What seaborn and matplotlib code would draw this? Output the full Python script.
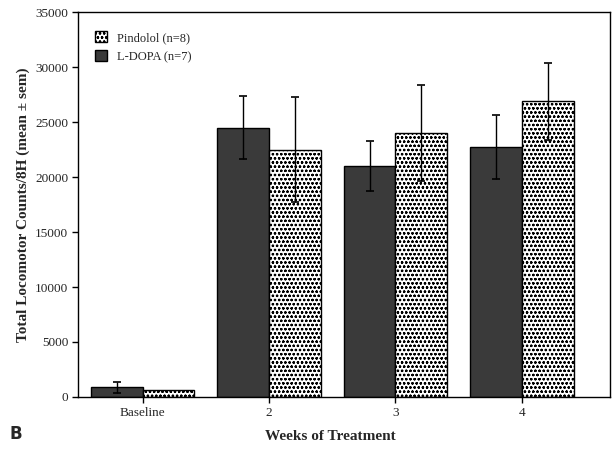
import matplotlib
matplotlib.use("Agg")
import matplotlib.pyplot as plt
import seaborn as sns
import pandas as pd
import numpy as np
from matplotlib.patches import Patch

categories = ["Baseline", "2", "3", "4"]
groups = ["L-DOPA (n=7)", "Pindolol (n=8)"]
ldopa_mean = [900, 24500, 21000, 22700]
ldopa_sem = [500, 2900, 2300, 2900]
pindolol_mean = [600, 22500, 24000, 26900]
pindolol_sem = [0, 4800, 4400, 3500]
y_ticks = [0, 5000, 10000, 15000, 20000, 25000, 30000, 35000]

sns.set_theme(style="white")
plt.rcParams['font.family'] = ['Liberation Serif', 'DejaVu Serif']
plt.rcParams['hatch.linewidth'] = 0.6
plt.rcParams['hatch.color'] = '#333333'

df = pd.DataFrame({
    "week": categories * 2,
    "group": [groups[0]] * 4 + [groups[1]] * 4,
    "value": ldopa_mean + pindolol_mean,
    "sem": ldopa_sem + pindolol_sem,
})

fig = plt.figure(figsize=(6.12, 4.55), dpi=100)
ax = fig.add_axes([0.1275, 0.1275, 0.870, 0.846])

sns.barplot(data=df, x="week", y="value", hue="group", order=categories,
            hue_order=groups, palette=["#3a3a3a", "white"], width=0.82, gap=0,
            errorbar=None, edgecolor="black", linewidth=1.0, ax=ax, legend=False)

HATCH = "oooo"
n = len(categories)
for i, patch in enumerate(ax.patches[:2 * n]):
    g = i // n
    c = i % n
    if g == 1:
        patch.set_hatch(HATCH)
        patch.set_facecolor("white")
    xc = patch.get_x() + patch.get_width() / 2
    h = patch.get_height()
    sem = (ldopa_sem if g == 0 else pindolol_sem)[c]
    if sem > 0:
        ax.errorbar([xc], [h], yerr=[[sem], [sem]], fmt="none", ecolor="black",
                    elinewidth=1.0, capsize=3, capthick=1.2, zorder=5)

ax.set_xlim(-0.51, 3.70)
ax.set_ylim(0, 35000)
ax.set_yticks(y_ticks)
ax.set_yticklabels([str(t) for t in y_ticks], fontsize=9.5)
ax.set_xticks(range(n))
ax.set_xticklabels(categories, fontsize=9.5)
ax.tick_params(axis="both", direction="out", length=4, width=1, color="black",
               bottom=True, left=True, pad=3)
for s in ax.spines.values():
    s.set_color("black")
    s.set_linewidth(1.0)

ax.set_xlabel("")
ax.set_ylabel("Total Locomotor Counts/8H (mean \u00b1 sem)", fontsize=11,
              fontweight="bold", labelpad=4)
fig.text(0.54, 0.04, "Weeks of Treatment", fontsize=11, fontweight="bold",
         ha="center", va="center")

handles = [Patch(facecolor="white", edgecolor="black", hatch=HATCH, label=groups[1]),
           Patch(facecolor="#3a3a3a", edgecolor="black", label=groups[0])]
ax.legend(handles=handles, loc="upper left", frameon=False, fontsize=9,
          handlelength=1.0, handleheight=1.0, bbox_to_anchor=(0.01, 0.98))

fig.text(0.015, 0.035, "B", fontsize=12, fontweight="bold", family="DejaVu Sans")

fig.savefig("out.png", dpi=100)
